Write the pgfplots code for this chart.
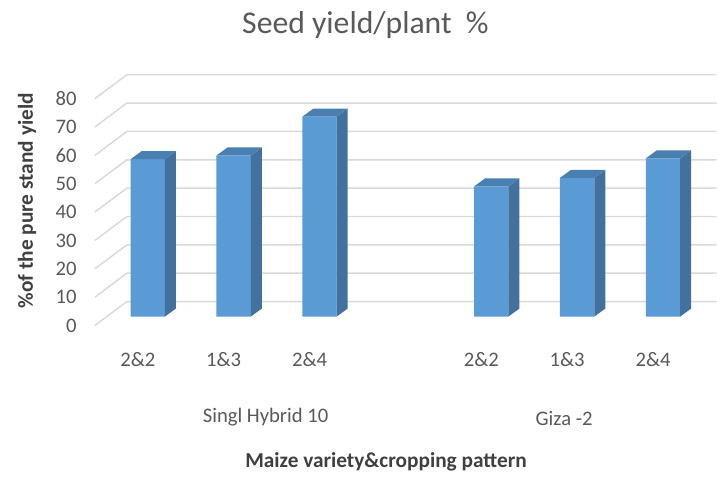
\documentclass[border=0pt]{standalone}
\usepackage{pgfplots}
\pgfplotsset{compat=1.18}
\usepackage{pgfplotstable}
\usepackage{fontspec}
\setmainfont{Carlito}

\definecolor{barfront}{HTML}{5B9BD5}
\definecolor{barside}{HTML}{41719C}
\definecolor{bartop}{HTML}{4A7FB2}
\definecolor{gridgray}{HTML}{D9D9D9}
\definecolor{labelgray}{HTML}{595959}
\definecolor{titlegray}{HTML}{404040}

% seed yield per plant, % of the pure stand yield
\pgfplotstableread{
pos yield
0 55.5
1 56.8
2 70.5
4 45.9
5 48.9
6 55.8
}\yieldtable

% half bar width and the oblique depth of a bar (axis units)
\def\hw{0.2}
\def\bdx{0.128}
\def\bdy{2.82}

\begin{document}
\begin{tikzpicture}
\begin{scope}[x=0.75pt,y=-0.75pt]
  \useasboundingbox (0,0) rectangle (717,476);
  \coordinate (axisorigin) at (107,317);
\end{scope}

\begin{axis}[
  at={(axisorigin)}, anchor=south west,
  x=64.5pt, y=2.13pt,
  xmin=-0.477, xmax=6.38, ymin=0, ymax=85,
  scale only axis, clip=false,
  axis line style={draw=none},
  major tick length=0pt,
  xtick={0,1,2,4,5,6},
  xticklabels={2\&2,1\&3,2\&4,2\&2,1\&3,2\&4},
  xticklabel style={anchor=center, inner sep=0pt, xshift=-7.5pt, yshift=-32.25pt,
    font=\fontsize{15.5}{18}\selectfont, text=labelgray},
  ytick={0,10,...,80},
  yticklabel style={anchor=east, inner sep=0pt, xshift=-22.5pt, yshift=-6.75pt,
    font=\fontsize{15.5}{18}\selectfont, text=labelgray},
  /pgf/number format/assume math mode=true,
]

% floor edge and back-wall gridlines
\pgfplotsinvokeforeach{0,10,...,80}{
  \draw[gridgray, line width=1.1pt]
    (axis cs:-0.616,{#1-3.17}) -- (axis cs:-0.244,{#1+5.28}) -- (axis cs:6.62,{#1+5.28});
}

% front faces of the bars
\addplot[ybar, bar width=0.4, fill=barfront, draw=none] table[x=pos, y=yield] {\yieldtable};

% side and top faces of the bars
\pgfplotstablegetrowsof{\yieldtable}
\pgfmathtruncatemacro\lastrow{\pgfplotsretval-1}
\pgfplotsforeachungrouped \r in {0,...,\lastrow}{%
  \pgfplotstablegetelem{\r}{pos}\of\yieldtable \let\bx\pgfplotsretval
  \pgfplotstablegetelem{\r}{yield}\of\yieldtable \let\by\pgfplotsretval
  \pgfmathsetmacro\xl{\bx-\hw}%
  \pgfmathsetmacro\xr{\bx+\hw}%
  \pgfmathsetmacro\xlb{\bx-\hw+\bdx}%
  \pgfmathsetmacro\xrb{\bx+\hw+\bdx}%
  \pgfmathsetmacro\yb{\by+\bdy}%
  \edef\faces{%
    \noexpand\addplot[fill=barside, draw=none, no markers]
      coordinates {(\xr,0) (\xrb,\bdy) (\xrb,\yb) (\xr,\by)};
    \noexpand\addplot[fill=bartop, draw=none, no markers]
      coordinates {(\xl,\by) (\xlb,\yb) (\xrb,\yb) (\xr,\by)};
  }\faces
}
\end{axis}

\begin{scope}[x=0.75pt,y=-0.75pt]
  \node[anchor=base, font=\fontsize{23.8}{28}\selectfont, text=labelgray]
    at (366,34) {Seed yield/plant\ \ \%};
  \node[font=\fontsize{15.5}{18}\selectfont, text=labelgray] at (266,418) {Singl Hybrid 10};
  \node[font=\fontsize{15.5}{18}\selectfont, text=labelgray] at (565,419) {Giza -2};
  \node[anchor=west, font=\bfseries\fontsize{16}{19}\selectfont, text=titlegray]
    at (241,463) {Maize variety\&cropping pattern};
  \node[rotate=90, font=\bfseries\fontsize{16}{19}\selectfont, text=titlegray]
    at (27,201) {\%of the pure stand yield};
\end{scope}
\end{tikzpicture}
\end{document}
